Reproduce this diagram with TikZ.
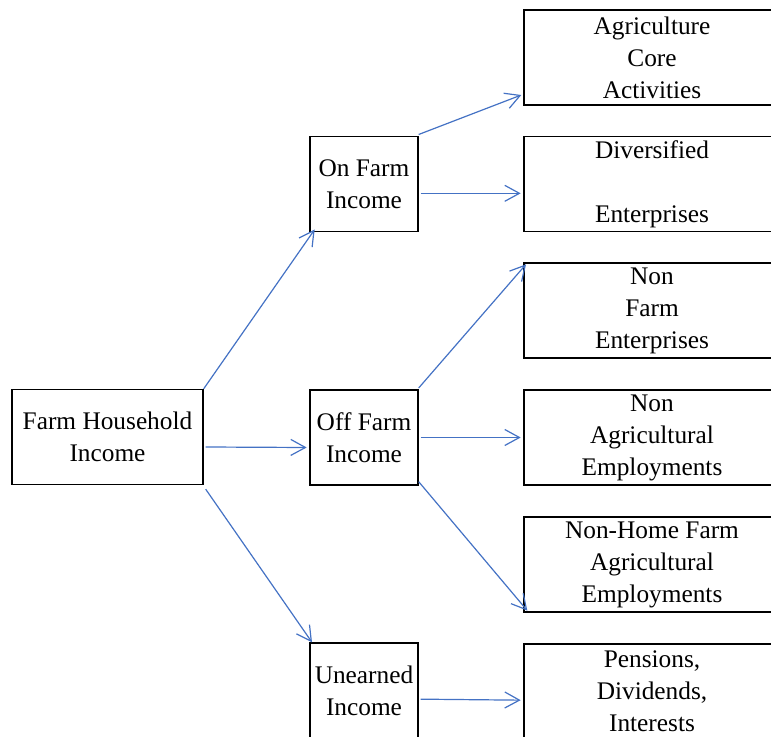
\documentclass[tikz,border=0pt]{standalone}
\usepackage{fontspec}
\setmainfont{Liberation Serif}
\usepackage{xcolor}
\definecolor{arrowblue}{RGB}{68,114,196}
\usepackage{tikz}
\usetikzlibrary{arrows.meta}
\newcommand{\widthmain}{143.25pt}
\newcommand{\widthmid}{81pt}
\newcommand{\widthright}{192pt}
\newcommand{\heightbox}{71.25pt}
\tikzset{
    common/.style={draw, line width=1pt, rectangle, align=center, inner sep=0pt,
        minimum height=\heightbox, font=\fontsize{19}{24}\selectfont},
    mainbox/.style={common, minimum width=\widthmain},
    midbox/.style={common, minimum width=\widthmid},
    rightbox/.style={common, minimum width=\widthright},
    flow/.style={-{Straight Barb[length=11pt, width=12pt]}, arrowblue, line width=0.9pt}
}
\begin{document}
\begin{tikzpicture}[x=0.75pt, y=-0.75pt]
              \useasboundingbox (0,0) rectangle (771,737);
              \clip (0,0) rectangle (771,737);

              \node[mainbox] (household) at (107.5,437) {Farm Household\\Income};

              \node[midbox] (onfarm) at (364,184) {On Farm\\Income};
              \node[midbox] (offfarm) at (364,437.5) {Off Farm\\Income};
              \node[midbox] (unearned) at (364,690.5) {Unearned\\Income};

              \node[rightbox] (core) at (652,57.5) {Agriculture\\Core\\Activities};
              \node[rightbox] (diversified) at (652,184) {Diversified\\[24pt]Enterprises};
              \node[rightbox] (nonfarm) at (652,310.5) {Non\\Farm\\Enterprises};
              \node[rightbox] (nonagri) at (652,437.5) {Non\\Agricultural\\Employments};
              \node[rightbox] (nonhome) at (652,564.5) {Non-Home Farm\\Agricultural\\Employments};
              \node[rightbox] (pensions) at (652,691.5) {Pensions,\\Dividends,\\Interests};

              \draw[flow] (household.north east) -- ([xshift=4pt, yshift=2pt]onfarm.south west);
              \draw[flow] ([xshift=1.5pt, yshift=-7.5pt]household.east) -- ([xshift=-2pt, yshift=-7.5pt]offfarm.west);
              \draw[flow] ([xshift=1.5pt, yshift=-3pt]household.south east) -- ([xshift=2pt]unearned.north west);

              \draw[flow] ([yshift=1pt]onfarm.north east) -- ([xshift=-1.5pt, yshift=8pt]core.south west);
              \draw[flow] ([xshift=1.5pt, yshift=-7pt]onfarm.east) -- ([xshift=-2pt, yshift=-7pt]diversified.west);

              \draw[flow] ([yshift=1pt]offfarm.north east) -- ([xshift=2pt, yshift=-1.5pt]nonfarm.north west);
              \draw[flow] ([xshift=1.5pt]offfarm.east) -- ([xshift=-2pt]nonagri.west);
              \draw[flow] ([yshift=3pt]offfarm.south east) -- ([xshift=3pt, yshift=1.5pt]nonhome.south west);

              \draw[flow] ([xshift=1.5pt, yshift=-6.5pt]unearned.east) -- ([xshift=-2pt, yshift=-6.5pt]pensions.west);
\end{tikzpicture}
\end{document}
